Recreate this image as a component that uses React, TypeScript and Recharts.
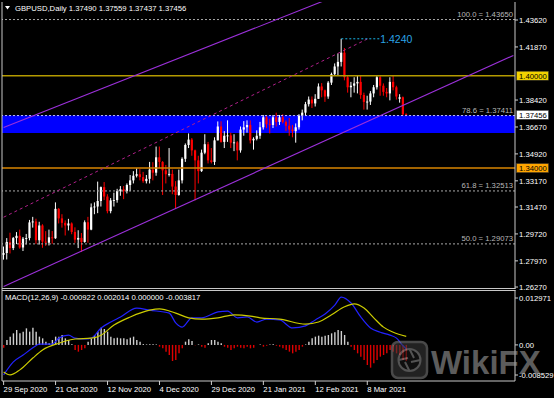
import React from 'react';
import { ComposedChart, Bar, Line, XAxis, YAxis, ReferenceLine, ReferenceArea, Cell } from 'recharts';

const FONT = '"Liberation Sans", Arial, sans-serif';

const dateTickIdx = [0, 16, 32, 48, 64, 80, 96, 112];
const dateLabels = ['29 Sep 2020', '21 Oct 2020', '12 Nov 2020', '4 Dec 2020', '29 Dec 2020', '21 Jan 2021', '12 Feb 2021', '8 Mar 2021'];

// open, high, low, close
const candles: [number, number, number, number][] = [
  [1.2836, 1.2890, 1.2805, 1.2848], [1.2848, 1.2945, 1.2806, 1.2920], [1.2920, 1.2980, 1.2845, 1.2880], [1.2880, 1.2952, 1.2867, 1.2945],
  [1.2945, 1.2984, 1.2906, 1.2960], [1.2960, 1.3000, 1.2876, 1.2884], [1.2884, 1.2952, 1.2861, 1.2941], [1.2941, 1.2972, 1.2904, 1.2945],
  [1.2945, 1.3063, 1.2930, 1.3047], [1.3047, 1.3083, 1.3013, 1.3053], [1.3053, 1.3071, 1.2907, 1.2931], [1.2931, 1.3051, 1.2903, 1.3027],
  [1.3027, 1.3035, 1.2882, 1.2922], [1.2922, 1.2990, 1.2894, 1.2915], [1.2915, 1.3000, 1.2897, 1.2950], [1.2950, 1.2991, 1.2908, 1.2944],
  [1.2944, 1.3177, 1.2940, 1.3135], [1.3135, 1.3140, 1.3040, 1.3073], [1.3073, 1.3100, 1.3013, 1.3044], [1.3044, 1.3060, 1.2962, 1.3027],
  [1.3027, 1.3070, 1.2995, 1.3040], [1.3040, 1.3047, 1.2970, 1.2985], [1.2985, 1.3015, 1.2914, 1.2935], [1.2935, 1.2996, 1.2880, 1.2946],
  [1.2946, 1.2978, 1.2855, 1.2920], [1.2920, 1.3060, 1.2915, 1.3048], [1.3048, 1.3083, 1.2915, 1.3000], [1.3000, 1.3170, 1.2996, 1.3145],
  [1.3145, 1.3177, 1.3100, 1.3150], [1.3150, 1.3312, 1.3107, 1.3186], [1.3186, 1.3280, 1.3150, 1.3276], [1.3276, 1.3309, 1.3192, 1.3215],
  [1.3215, 1.3230, 1.3106, 1.3120], [1.3120, 1.3205, 1.3106, 1.3190], [1.3190, 1.3240, 1.3150, 1.3192], [1.3192, 1.3265, 1.3175, 1.3250],
  [1.3250, 1.3283, 1.3220, 1.3262], [1.3262, 1.3283, 1.3198, 1.3250], [1.3250, 1.3300, 1.3235, 1.3290], [1.3290, 1.3355, 1.3250, 1.3320],
  [1.3320, 1.3380, 1.3300, 1.3350], [1.3350, 1.3398, 1.3339, 1.3360], [1.3360, 1.3393, 1.3320, 1.3341], [1.3341, 1.3375, 1.3304, 1.3315],
  [1.3315, 1.3355, 1.3300, 1.3330], [1.3330, 1.3440, 1.3300, 1.3390], [1.3390, 1.3438, 1.3320, 1.3370], [1.3370, 1.3540, 1.3350, 1.3470],
  [1.3470, 1.3540, 1.3400, 1.3440], [1.3440, 1.3445, 1.3225, 1.3385], [1.3385, 1.3420, 1.3300, 1.3360], [1.3360, 1.3530, 1.3345, 1.3362],
  [1.3362, 1.3390, 1.3230, 1.3280], [1.3280, 1.3315, 1.3134, 1.3225], [1.3225, 1.3390, 1.3220, 1.3320], [1.3320, 1.3470, 1.3300, 1.3460],
  [1.3460, 1.3560, 1.3440, 1.3550], [1.3550, 1.3625, 1.3530, 1.3585], [1.3585, 1.3595, 1.3480, 1.3515], [1.3515, 1.3520, 1.3190, 1.3450],
  [1.3450, 1.3480, 1.3300, 1.3380], [1.3380, 1.3520, 1.3375, 1.3500], [1.3500, 1.3620, 1.3490, 1.3555], [1.3555, 1.3570, 1.3430, 1.3450],
  [1.3450, 1.3530, 1.3430, 1.3440], [1.3440, 1.3600, 1.3420, 1.3580], [1.3580, 1.3703, 1.3580, 1.3670], [1.3670, 1.3704, 1.3565, 1.3570],
  [1.3570, 1.3640, 1.3530, 1.3610], [1.3610, 1.3710, 1.3570, 1.3612], [1.3612, 1.3630, 1.3530, 1.3565], [1.3565, 1.3620, 1.3510, 1.3567],
  [1.3567, 1.3575, 1.3450, 1.3515], [1.3515, 1.3670, 1.3500, 1.3650], [1.3650, 1.3705, 1.3610, 1.3665], [1.3665, 1.3710, 1.3630, 1.3680],
  [1.3680, 1.3710, 1.3560, 1.3580], [1.3580, 1.3600, 1.3520, 1.3590], [1.3590, 1.3645, 1.3580, 1.3610], [1.3610, 1.3700, 1.3590, 1.3665],
  [1.3665, 1.3745, 1.3650, 1.3730], [1.3730, 1.3745, 1.3660, 1.3685], [1.3685, 1.3720, 1.3625, 1.3680], [1.3680, 1.3745, 1.3660, 1.3730],
  [1.3730, 1.3760, 1.3670, 1.3700], [1.3700, 1.3745, 1.3680, 1.3730], [1.3730, 1.3750, 1.3690, 1.3700], [1.3700, 1.3710, 1.3640, 1.3675],
  [1.3675, 1.3725, 1.3610, 1.3650], [1.3650, 1.3680, 1.3600, 1.3640], [1.3640, 1.3690, 1.3565, 1.3665], [1.3665, 1.3750, 1.3650, 1.3740],
  [1.3740, 1.3780, 1.3710, 1.3760], [1.3760, 1.3830, 1.3740, 1.3815], [1.3815, 1.3865, 1.3800, 1.3845], [1.3845, 1.3865, 1.3790, 1.3820],
  [1.3820, 1.3880, 1.3800, 1.3850], [1.3850, 1.3950, 1.3850, 1.3930], [1.3930, 1.3952, 1.3860, 1.3905], [1.3905, 1.3910, 1.3830, 1.3865],
  [1.3865, 1.3965, 1.3850, 1.3955], [1.3955, 1.4020, 1.3940, 1.4010], [1.4010, 1.4080, 1.4000, 1.4060], [1.4060, 1.4145, 1.4000, 1.4090],
  [1.4090, 1.4240, 1.4060, 1.4150], [1.4150, 1.4180, 1.3970, 1.3990], [1.3990, 1.4000, 1.3890, 1.3925], [1.3925, 1.3960, 1.3860, 1.3935],
  [1.3935, 1.3990, 1.3890, 1.3950], [1.3950, 1.4000, 1.3885, 1.3960], [1.3960, 1.4000, 1.3850, 1.3875], [1.3875, 1.3890, 1.3780, 1.3830],
  [1.3830, 1.3870, 1.3780, 1.3832], [1.3832, 1.3900, 1.3810, 1.3885], [1.3885, 1.3940, 1.3860, 1.3925], [1.3925, 1.4000, 1.3910, 1.3990],
  [1.3990, 1.4000, 1.3870, 1.3935], [1.3935, 1.3950, 1.3870, 1.3895], [1.3895, 1.3920, 1.3860, 1.3885], [1.3885, 1.3990, 1.3840, 1.3960],
  [1.3960, 1.4000, 1.3905, 1.3925], [1.3925, 1.3935, 1.3845, 1.3865], [1.3850, 1.3880, 1.3825, 1.3860], [1.3860, 1.3865, 1.3740, 1.3749],
  [1.37490, 1.37559, 1.37437, 1.37456],
];

const histogram: number[] = [
  -0.00065, 0.00116, 0.00195, 0.00273, 0.00352, 0.00273, 0.00313, 0.00391, 0.00313, 0.00407,
  0.00313, 0.00195, 0.00155, 0.00076, 0.00037, 0.00116, 0.00195, 0.00195, 0.00234, 0.00155,
  0.00116, 0.00013, -0.00121, -0.0016, -0.00121, -0.00081, 0.00076, 0.00155, 0.00234, 0.00313,
  0.00407, 0.00376, 0.00313, 0.00195, 0.00155, 0.0017, 0.00155, 0.00155, 0.00132, 0.0017,
  0.00195, 0.00116, 0.00076, 0.00021, 0.00013, 0.00013, 0.00013, 0.00013, -0.00042, -0.00081,
  -0.0016, -0.00239, -0.0038, -0.00357, -0.00199, -0.00081, 0.00076, 0.00132, 0.00092, -0.0001,
  0.00013, -0.00042, -0.00065, 0.00037, 0.00116, 0.00116, 0.00076, 0.00037, -0.00042, -0.00065,
  -0.00121, -0.00081, -0.00042, -0.00065, -0.00081, -0.00042, -0.00081, -0.00065, -0.00002, 0.0001,
  -0.00042, -0.0002, 0.0001, 0.00013, -0.0002, -0.00042, -0.00081, -0.00121, -0.0016, -0.00199,
  -0.0016, -0.00121, -0.00042, 0.00013, 0.00076, 0.00155, 0.00195, 0.00218, 0.00195, 0.00218,
  0.00234, 0.00273, 0.00297, 0.00352, 0.00328, 0.00234, 0.00076, -0.00042, -0.00121, -0.00199,
  -0.00278, -0.00357, -0.00475, -0.00538, -0.00436, -0.00357, -0.00278, -0.00239, -0.00199, -0.00121,
  -0.0016, -0.00199, -0.00239, -0.00357, -0.003817,
];

const macdPoints: [number, number][] = [
  [0, -0.0071], [3, -0.004], [6, -0.0024], [9, -0.0007], [11, 0.0002], [15, 0.0002], [17, 0.0016], [20, 0.0023],
  [22, 0.0016], [25, 0.0014], [27, 0.0016], [30, 0.004], [33, 0.0054], [36, 0.0066], [41, 0.0087], [45, 0.0082],
  [51, 0.0075], [53, 0.0052], [55, 0.0042], [58, 0.0064], [61, 0.0064], [66, 0.0078], [69, 0.008], [72, 0.0064],
  [75, 0.0066], [78, 0.0054], [81, 0.0061], [85, 0.0059], [89, 0.004], [93, 0.0045], [96, 0.0059], [99, 0.0073],
  [102, 0.0094], [104, 0.0113], [107, 0.0099], [110, 0.0066], [113, 0.004], [116, 0.003], [119, 0.0023], [121, 0.0016],
  [123, -0.0002], [124, -0.000922],
];

const signalPoints: [number, number][] = [
  [0, -0.0064], [2, -0.0071], [5, -0.0059], [9, -0.0031], [12, -0.0012], [17, 0.0004], [22, 0.0014], [27, 0.0016],
  [30, 0.0023], [34, 0.0047], [39, 0.0066], [45, 0.0082], [48, 0.0085], [53, 0.0075], [57, 0.0064], [61, 0.0061],
  [66, 0.0064], [71, 0.0071], [76, 0.0068], [79, 0.0064], [85, 0.0061], [93, 0.0049], [97, 0.0054], [101, 0.0071],
  [105, 0.009], [108, 0.0097], [111, 0.0087], [114, 0.0064], [117, 0.0042], [120, 0.003], [124, 0.002014],
];

const priceTicks = [1.4362, 1.4187, 1.3842, 1.3667, 1.3492, 1.3317, 1.3147, 1.2972, 1.2797, 1.2627];
const macdTicks = [0.012971, 0, -0.008529];

// channel lines: [startIndex, startPrice, endIndex, endPrice]
const upperChannel: [number, number, number, number] = [0, 1.36629, 100, 1.4498];
const midChannel: [number, number, number, number] = [0, 1.30807, 112, 1.42386];
const lowerChannel: [number, number, number, number] = [0, 1.2631, 157, 1.4132];
const peak = { from: 104, to: 116, price: 1.424, label: '1.4240' };

const SLOTS = 158;
const macdMap = new Map(macdPoints);
const signalMap = new Map(signalPoints);
const rows = Array.from({ length: SLOTS }, (_, i) => {
  const c = candles[i];
  return {
    i,
    range: c ? [c[2], c[1]] : undefined,
    o: c ? c[0] : undefined,
    h: c ? c[1] : undefined,
    l: c ? c[2] : undefined,
    c: c ? c[3] : undefined,
    hist: histogram[i],
    macd: macdMap.has(i) ? macdMap.get(i) : null,
    signal: signalMap.has(i) ? signalMap.get(i) : null,
  };
});

const Candle = (props: any) => {
  const { x, y, width, height, payload } = props;
  if (!payload || payload.o == null || x == null) return null;
  const { o, h, l, c } = payload;
  const top = Math.min(y, y + height);
  const hh = Math.abs(height);
  const cx = x + width / 2;
  const span = h - l;
  const py = (v: number) => (span > 0 ? top + ((h - v) / span) * hh : top);
  const up = c >= o;
  const color = up ? '#ffffff' : '#ff0000';
  const bt = py(Math.max(o, c));
  const bb = py(Math.min(o, c));
  return (
    <g>
      <line x1={cx} x2={cx} y1={top} y2={top + hh} stroke={color} strokeWidth={1} />
      <rect x={cx - 1.1} y={bt} width={2.2} height={Math.max(0.9, bb - bt)} fill={color} />
    </g>
  );
};

const PriceTick = (props: any) => {
  const { x, y, payload } = props;
  return (
    <text x={x - 1} y={y + 2.8} fill="#ffffff" fontSize={7.7} fontFamily={FONT} textAnchor="start">
      {payload.value.toFixed(5)}
    </text>
  );
};

const MacdTick = (props: any) => {
  const { x, y, payload } = props;
  const v = payload.value;
  const txt = v === 0 ? '0.00' : v.toFixed(6);
  const dy = v > 0 ? 11 : v < 0 ? -3 : 3;
  return (
    <g>
      <line x1={x - 5} x2={x - 2} y1={y + dy - 3} y2={y + dy - 3} stroke="#d0d0d0" />
      <text x={x - 1} y={y + dy} fill="#ffffff" fontSize={7.7} fontFamily={FONT} textAnchor="start">{txt}</text>
    </g>
  );
};

const DateTick = (props: any) => {
  const { x, y, payload } = props;
  const k = dateTickIdx.indexOf(Number(payload.value));
  if (k < 0) return null;
  return (
    <text x={x} y={y + 5} fill="#ffffff" fontSize={7.7} fontFamily={FONT} textAnchor="start">{dateLabels[k]}</text>
  );
};

const FibLabel = (props: any) => {
  const vb = props.viewBox || {};
  return (
    <text x={vb.x + vb.width - 2} y={vb.y - 2.5} fill="#b8b8b8" fontSize={7.7} fontFamily={FONT} textAnchor="end">{props.text}</text>
  );
};

const BoxLabel = (props: any) => {
  const vb = props.viewBox || {};
  const bx = vb.x + vb.width + 1.5;
  return (
    <g>
      <rect x={bx} y={vb.y - 4.5} width={32} height={9} fill={props.bg} stroke="#303030" strokeWidth={0.5} />
      <text x={bx + 2.5} y={vb.y + 2.8} fill="#000000" fontSize={7.7} fontFamily={FONT} textAnchor="start">{props.text}</text>
    </g>
  );
};

const PeakLabel = (props: any) => {
  const vb = props.viewBox || {};
  const x = vb.x2 != null ? vb.x2 : (vb.x + (vb.width || 0));
  const y = vb.y2 != null ? vb.y2 : vb.y;
  return (
    <text x={x} y={y + 3.8} fill="#2aa3e6" fontSize={10.5} fontFamily={FONT} textAnchor="start">{props.text}</text>
  );
};

const seg = (s: [number, number, number, number]) => [{ x: s[0], y: s[1] }, { x: s[2], y: s[3] }];

export default function App() {
  return (
    <div style={{ position: 'absolute', left: 0, top: 0, width: 554, height: 398, background: '#000', overflow: 'hidden' }}>
      <div style={{ position: 'absolute', left: 0, top: 290 }}>
        <ComposedChart width={554} height={108} data={rows} margin={{ top: 0, right: 0, bottom: 0, left: 2 }}>
          <XAxis
            dataKey="i"
            type="category"
            ticks={dateTickIdx}
            interval={0}
            height={17}
            tick={<DateTick />}
            tickSize={4}
            tickLine={{ stroke: '#d0d0d0' }}
            axisLine={{ stroke: '#c8c8c8' }}
          />
          <YAxis
            orientation="right"
            width={39}
            type="number"
            domain={[-0.008529, 0.012971]}
            allowDataOverflow
            ticks={macdTicks}
            interval={0}
            tick={<MacdTick />}
            tickSize={3}
            tickLine={false}
            axisLine={{ stroke: '#c8c8c8' }}
          />
          <Bar dataKey="hist" barSize={1.4} isAnimationActive={false}>
            {rows.map((r) => (
              <Cell key={r.i} fill={(r.hist ?? 0) >= 0 ? '#cfcfcf' : '#e00000'} />
            ))}
          </Bar>
          <Line dataKey="macd" type="monotone" stroke="#2222ff" strokeWidth={1.2} dot={false} connectNulls isAnimationActive={false} />
          <Line dataKey="signal" type="monotone" stroke="#cccc00" strokeWidth={1.2} dot={false} connectNulls isAnimationActive={false} />
        </ComposedChart>
      </div>
      <div style={{ position: 'absolute', left: 0, top: 0 }}>
        <ComposedChart width={554} height={294} data={rows} margin={{ top: 2, right: 0, bottom: 5, left: 2 }}>
          <XAxis dataKey="i" type="category" hide />
          <YAxis
            orientation="right"
            width={39}
            domain={[1.26142, 1.4479]}
            allowDataOverflow
            ticks={priceTicks}
            interval={0}
            tick={<PriceTick />}
            tickSize={3}
            tickLine={{ stroke: '#d0d0d0' }}
            axisLine={{ stroke: '#c8c8c8' }}
            type="number"
          />
          <ReferenceArea y1={1.3628} y2={1.37411} fill="#0000ff" fillOpacity={1} stroke="none" ifOverflow="hidden" />
          <ReferenceLine y={1.4365} stroke="#a8a8a8" strokeDasharray="2 2" label={<FibLabel text="100.0 = 1.43650" />} />
          <ReferenceLine y={1.37411} stroke="#c0c0ff" strokeDasharray="2 2" label={<FibLabel text="78.6 = 1.37411" />} />
          <ReferenceLine y={1.32513} stroke="#a8a8a8" strokeDasharray="2 2" label={<FibLabel text="61.8 = 1.32513" />} />
          <ReferenceLine y={1.29073} stroke="#a8a8a8" strokeDasharray="2 2" label={<FibLabel text="50.0 = 1.29073" />} />
          <ReferenceLine y={1.4} stroke="#b49a00" strokeWidth={1.4} label={<BoxLabel text="1.40000" bg="#f2d200" />} />
          <ReferenceLine y={1.34} stroke="#d88400" strokeWidth={1.4} label={<BoxLabel text="1.34000" bg="#ffa500" />} />
          <ReferenceLine y={1.37456} stroke="none" label={<BoxLabel text="1.37456" bg="#ffffff" />} />
          <ReferenceLine segment={seg(upperChannel)} stroke="#9b30d9" strokeWidth={1.1} ifOverflow="hidden" />
          <ReferenceLine segment={seg(lowerChannel)} stroke="#9b30d9" strokeWidth={1.1} ifOverflow="hidden" />
          <ReferenceLine segment={seg(midChannel)} stroke="#b0208a" strokeWidth={1} strokeDasharray="3 3" ifOverflow="hidden" />
          <ReferenceLine
            segment={[{ x: peak.from, y: peak.price }, { x: peak.to, y: peak.price }]}
            stroke="#19b5e8"
            strokeDasharray="2 2"
            ifOverflow="hidden"
            label={<PeakLabel text={peak.label} />}
          />
          <Bar dataKey="range" shape={<Candle />} barSize={3} isAnimationActive={false} />
        </ComposedChart>
      </div>
      <svg width={554} height={398} style={{ position: 'absolute', left: 0, top: 0, pointerEvents: 'none' }}>
        <line x1={2} x2={2} y1={2} y2={381} stroke="#c8c8c8" strokeWidth={1} />
        <line x1={2} x2={515.5} y1={288.5} y2={288.5} stroke="#c8c8c8" strokeWidth={1} />
        <line x1={2} x2={515.5} y1={290.5} y2={290.5} stroke="#c8c8c8" strokeWidth={1} />
        <path d="M5,6 L10,6 L7.5,9.5 Z" fill="#ffffff" />
        <text x={15} y={11} fill="#ffffff" fontSize={7.7} fontFamily={FONT}>GBPUSD,Daily  1.37490 1.37559 1.37437 1.37456</text>
        <text x={5} y={300} fill="#ffffff" fontSize={7.7} fontFamily={FONT}>MACD(12,26,9) -0.000922 0.002014 0.000000 -0.003817</text>
        <g opacity={0.6}>
          <rect x={392} y={342} width={35} height={36} rx={6} fill="#3a3a3a" stroke="#7a7a7a" strokeWidth={2.5} />
          <circle cx={409.5} cy={360} r={11} fill="#1a1a1a" stroke="#8a8a8a" strokeWidth={2} />
          <path d="M409.5,349 L414,358 M420.5,360 L411,362 M409.5,371 L405,362 M398.5,360 L408,358" stroke="#8a8a8a" strokeWidth={2} />
          <text x={431} y={374} fill="#9a9a9a" fontSize={33} fontWeight="bold" fontFamily={FONT}>WikiFX</text>
        </g>
      </svg>
    </div>
  );
}
